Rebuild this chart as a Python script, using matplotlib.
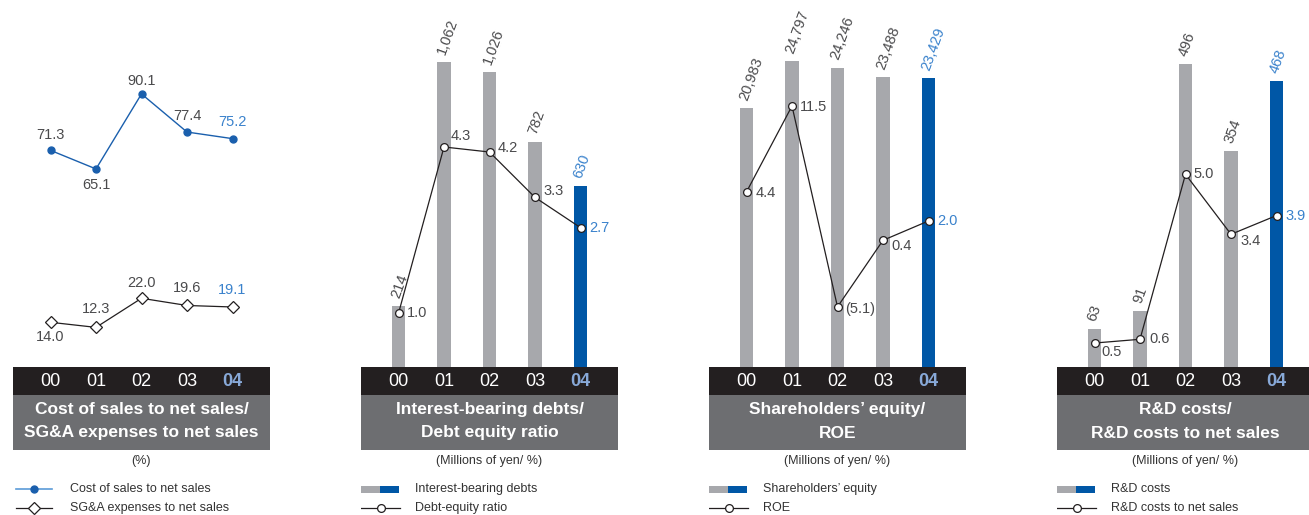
import matplotlib
matplotlib.use('Agg')
import matplotlib.pyplot as plt
from matplotlib.patches import Rectangle

plt.rcParams['font.family'] = ['Liberation Sans', 'DejaVu Sans']

# ---------------- data ----------------
years = ['00', '01', '02', '03', '04']
cost_ratio = [71.3, 65.1, 90.1, 77.4, 75.2]
sga_ratio = [14.0, 12.3, 22.0, 19.6, 19.1]
debts = [214, 1062, 1026, 782, 630]
de_ratio = [1.0, 4.3, 4.2, 3.3, 2.7]
equity = [20983, 24797, 24246, 23488, 23429]
roe = [4.4, 11.5, -5.1, 0.4, 2.0]
rd_costs = [63, 91, 496, 354, 468]
rd_ratio = [0.5, 0.6, 5.0, 3.4, 3.9]

titles = [
    ['Cost of sales to net sales/', 'SG&A expenses to net sales'],
    ['Interest-bearing debts/', 'Debt equity ratio'],
    ['Shareholders\u2019 equity/', 'ROE'],
    ['R&D costs/', 'R&D costs to net sales'],
]
units = ['(%)', '(Millions of yen/ %)', '(Millions of yen/ %)', '(Millions of yen/ %)']
legend_labels = [
    ['Cost of sales to net sales', 'SG&A expenses to net sales'],
    ['Interest-bearing debts', 'Debt-equity ratio'],
    ['Shareholders\u2019 equity', 'ROE'],
    ['R&D costs', 'R&D costs to net sales'],
]

# ---------------- style ----------------
W, H = 1309, 515
BAR_GRAY = '#a7a8ac'
BAR_BLUE = '#0057a6'
LABEL_BLUE = '#3a82cc'
TXT = '#4a4a4c'
BLACK = '#231f20'
BOX = '#6d6e71'
TICK_BLUE = '#88a9d8'
LINE_BLUE = '#1a5fad'
LEG_BLUE = '#5b9bd8'

PANEL_LEFT = [13, 361, 709, 1057]
PANEL_W = 257
BASE = 367
FIRST = 37.5
STEP = 45.5

fig = plt.figure(figsize=(W / 100, H / 100), dpi=100)


def px_axes(x0, y0, w, h):
    ax = fig.add_axes([x0 / W, 1 - (y0 + h) / H, w / W, h / H])
    ax.set_axis_off()
    return ax


xs = list(range(len(years)))
xlim = (-FIRST / STEP, (PANEL_W - FIRST) / STEP)


def value_label(ax, x, y, s, dx, dy, color, ha='left', va='center'):
    ax.annotate(s, (x, y), xytext=(dx, -dy), textcoords='offset pixels',
                ha=ha, va=va, fontsize=10.5, color=color, clip_on=False)


def fmt(v):
    return '(%.1f)' % abs(v) if v < 0 else '%.1f' % v


# ---------------- panel 1 : lines only ----------------
ax = px_axes(PANEL_LEFT[0], 0, PANEL_W, BASE)
ax.set_xlim(*xlim)
ax.set_ylim(-0.9, 121.4)
ax.plot(xs, cost_ratio, color=LINE_BLUE, lw=1.0, marker='o', ms=5,
        mfc=LINE_BLUE, mec=LINE_BLUE, zorder=3)
ax.plot(xs, sga_ratio, color=BLACK, lw=0.9, marker='D', ms=6.2,
        mfc='white', mec=BLACK, mew=0.9, zorder=3)
cost_off = [-15, 16, -13, -16, -17]
sga_off = [15, -18, -15, -17, -17]
for i in xs:
    c = LABEL_BLUE if i == len(xs) - 1 else TXT
    value_label(ax, i, cost_ratio[i], '%.1f' % cost_ratio[i], 0, cost_off[i], c, ha='center')
    value_label(ax, i, sga_ratio[i], '%.1f' % sga_ratio[i], 0, sga_off[i], c, ha='center')

# ---------------- panels 2-4 : bars + line ----------------
bar_sets = [debts, equity, rd_costs]
line_sets = [de_ratio, roe, rd_ratio]
bar_top = [1278, 29740, 600.8]
line_lim = [(-0.065, 7.216), (-10.07, 20.26), (-0.139, 9.648)]
line_off = [
    [(8, 0), (7, -11), (8, -4), (8, -6), (9, 0)],
    [(9, 1), (8, 1), (8, 2), (8, 6), (9, 0)],
    [(7, 9), (9, 0), (8, 0), (9, 7), (9, 0)],
]
for k in range(3):
    left = PANEL_LEFT[k + 1]
    axb = px_axes(left, 0, PANEL_W, BASE)
    axb.set_xlim(*xlim)
    axb.set_ylim(0, bar_top[k])
    vals = bar_sets[k]
    colors = [BAR_GRAY] * (len(vals) - 1) + [BAR_BLUE]
    axb.bar(xs, vals, width=13.3 / STEP, color=colors, zorder=1)
    for i, v in enumerate(vals):
        c = LABEL_BLUE if i == len(vals) - 1 else TXT
        axb.annotate('{:,}'.format(v), (i, v), xytext=(1, 7), textcoords='offset pixels',
                     rotation=70, rotation_mode='anchor', ha='left', va='baseline',
                     fontsize=10.5, color=c)
    axl = px_axes(left, 0, PANEL_W, BASE)
    axl.set_xlim(*xlim)
    axl.set_ylim(*line_lim[k])
    lv = line_sets[k]
    axl.plot(xs, lv, color=BLACK, lw=0.9, marker='o', ms=5.6, mfc='white',
             mec=BLACK, mew=0.9, zorder=3)
    for i, v in enumerate(lv):
        c = LABEL_BLUE if i == len(lv) - 1 else TXT
        dx, dy = line_off[k][i]
        value_label(axl, i, v, fmt(v), dx, dy, c)

# ---------------- header boxes, units, legends ----------------
for p in range(4):
    left = PANEL_LEFT[p]
    axu = px_axes(left, BASE, PANEL_W, H - BASE)
    axu.set_xlim(0, PANEL_W)
    axu.set_ylim(H - BASE, 0)
    axu.add_patch(Rectangle((0, 0), PANEL_W, 28, color=BLACK, lw=0))
    axu.add_patch(Rectangle((0, 28), PANEL_W, 55, color=BOX, lw=0))
    for i, y in enumerate(years):
        last = i == len(years) - 1
        axu.text(FIRST + i * STEP, 14.5, y, ha='center', va='center', fontsize=13,
                 color=TICK_BLUE if last else 'white',
                 fontweight='bold' if last else 'normal')
    axu.text(PANEL_W / 2, 42.5, titles[p][0], ha='center', va='center',
             fontsize=12.5, fontweight='bold', color='white')
    axu.text(PANEL_W / 2, 66, titles[p][1], ha='center', va='center',
             fontsize=12.5, fontweight='bold', color='white')
    axu.text(PANEL_W / 2, 94, units[p], ha='center', va='center', fontsize=9, color='#333333')
    r1, r2 = 122, 141
    if p == 0:
        axu.plot([3, 39], [r1, r1], color=LEG_BLUE, lw=1.2)
        axu.plot([21], [r1], marker='o', ms=5, color=LINE_BLUE)
        axu.plot([3, 39], [r2, r2], color=BLACK, lw=0.9)
        axu.plot([21], [r2], marker='D', ms=6, mfc='white', mec=BLACK, mew=0.9)
        tx = 57
    else:
        axu.add_patch(Rectangle((0, r1 - 3.5), 19, 7, color=BAR_GRAY, lw=0))
        axu.add_patch(Rectangle((19, r1 - 3.5), 19, 7, color=BAR_BLUE, lw=0))
        axu.plot([0, 39], [r2, r2], color=BLACK, lw=0.9)
        axu.plot([19.5], [r2], marker='o', ms=5.6, mfc='white', mec=BLACK, mew=0.9)
        tx = 54
    axu.text(tx, r1, legend_labels[p][0], ha='left', va='center', fontsize=9, color='#333333')
    axu.text(tx, r2, legend_labels[p][1], ha='left', va='center', fontsize=9, color='#333333')

fig.savefig('out.png', dpi=100, facecolor='white')
